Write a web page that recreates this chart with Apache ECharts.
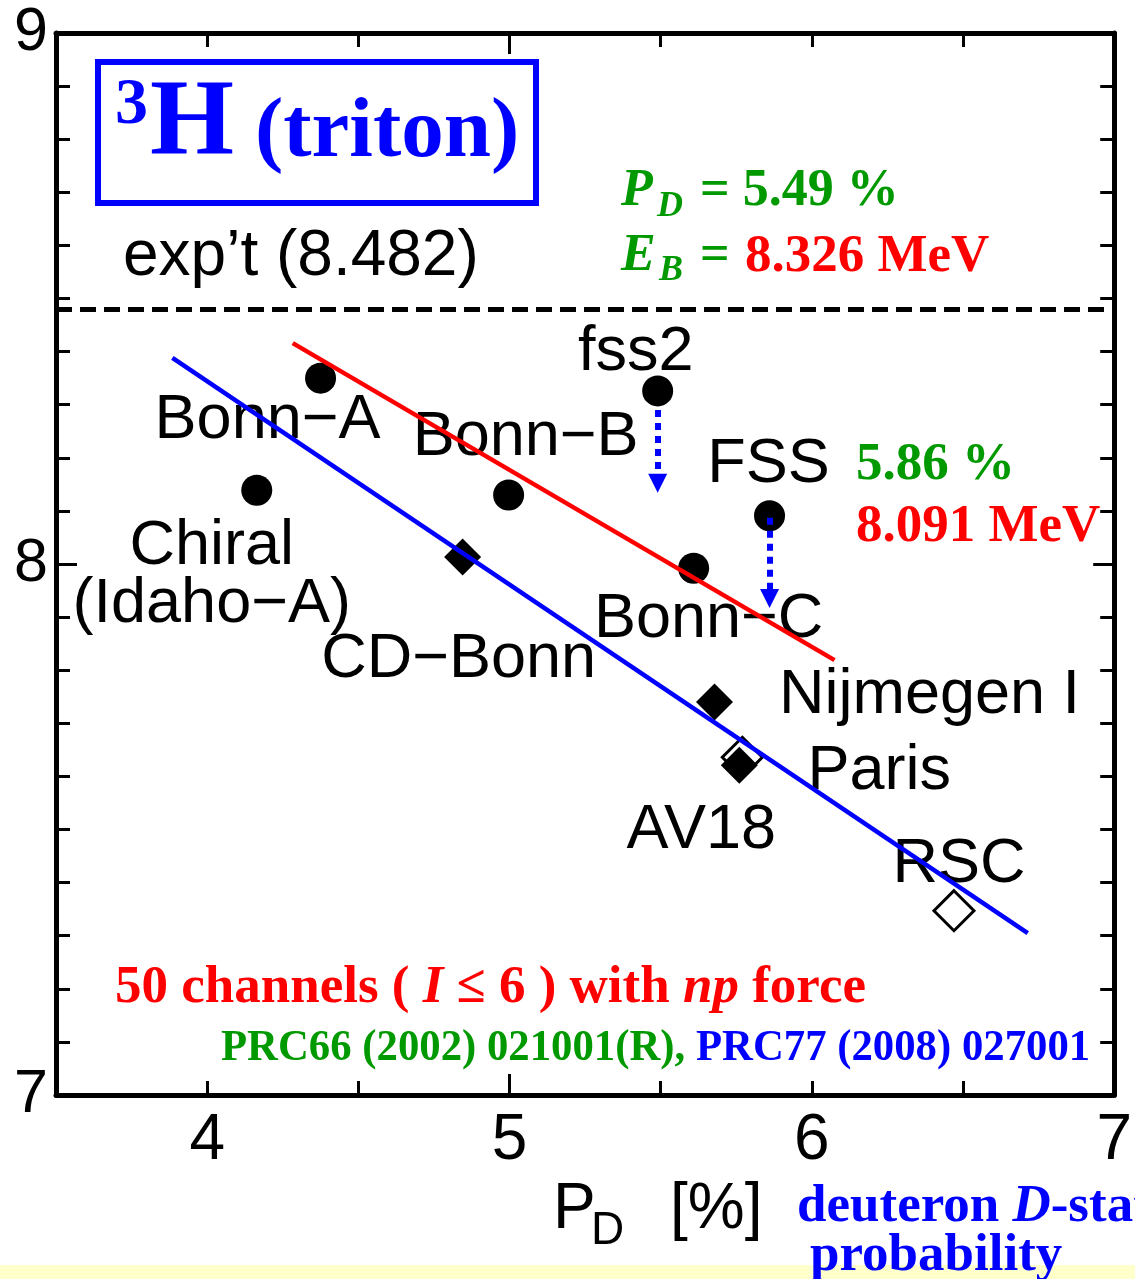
<!DOCTYPE html>
<html><head><meta charset="utf-8">
<script src="https://cdn.jsdelivr.net/npm/echarts@6/dist/echarts.min.js"></script>
<style>html,body{margin:0;padding:0;background:#fff}#c{width:1135px;height:1279px}</style>
</head><body><div id="c"></div><script>
// ---- data ----
const circleNames = ['Bonn−A', 'Chiral\n(Idaho−A)', 'Bonn−B', 'fss2', 'FSS', 'Bonn−C'];
const circlePD    = [4.375, 4.164, 4.997, 5.49, 5.86, 5.609];
const circleEB    = [8.350, 8.139, 8.130, 8.326, 8.091, 7.992];

const filledDiamondNames = ['CD−Bonn', 'Nijmegen I', 'AV18'];
const filledDiamondPD    = [4.845, 5.678, 5.760];
const filledDiamondEB    = [8.013, 7.740, 7.621];

const openDiamondNames = ['Paris', 'RSC'];
const openDiamondPD    = [5.770, 6.470];
const openDiamondEB    = [7.636, 7.347];

const blueLinePD = [3.885, 6.714];
const blueLineEB = [8.388, 7.305];
const redLinePD  = [4.283, 6.075];
const redLineEB  = [8.416, 7.819];

const expEB = 8.482;

const arrowPD    = [5.49, 5.86];
const arrowFrom  = [8.290, 8.087];
const arrowTo    = [8.152, 7.935];

const xTicks = [3.5, 7];       // axis range
const yTicks = [7, 9];
const xLabelValues = [4, 5, 6, 7];

// ---- layout (label offsets in px) ----
const labelOffsets = {
  'Bonn−A': [-53, 42], 'Chiral\n(Idaho−A)': [-45, 85], 'Bonn−B': [17, -57],
  'fss2': [-22, -38], 'FSS': [-1, -51], 'Bonn−C': [15, 51],
  'CD−Bonn': [-4, 103], 'Nijmegen I': [215, -6], 'AV18': [-38, 65],
  'Paris': [137, 14], 'RSC': [5, -46]
};

const SANS = '"Liberation Sans", Arial, Helvetica, sans-serif';
const SERIF = '"Liberation Serif", "Times New Roman", serif';
const GREEN = '#009900', RED = '#ff0000', BLUE = '#0000ff';

function pts(names, xs, ys) {
  return names.map((n, i) => ({
    name: n, value: [xs[i], ys[i]],
    label: { offset: labelOffsets[n] || [0, 0] }
  }));
}
const labelStyle = {
  show: true, position: 'inside', formatter: p => p.name,
  fontFamily: SANS, fontSize: 63, color: '#000', align: 'center',
  verticalAlign: 'middle', lineHeight: 58
};

const axisLineStyle = { show: true, onZero: false, lineStyle: { color: '#000', width: 5 } };
function xAx(pos, showLabel) {
  return {
    type: 'value', position: pos, min: xTicks[0], max: xTicks[1], interval: 0.5,
    axisLine: axisLineStyle,
    axisTick: { show: true, inside: true, length: 14, lineStyle: { color: '#000', width: 3 } },
    axisLabel: {
      show: showLabel, margin: 14, fontFamily: SANS, fontSize: 64, color: '#000',
      formatter: v => xLabelValues.indexOf(v) >= 0 ? String(v) : ''
    },
    splitLine: { show: false }
  };
}
function xLong(pos) {
  return {
    type: 'value', position: pos, min: xTicks[0], max: xTicks[1],
    axisLine: { show: false },
    axisTick: { show: true, inside: true, length: 21, customValues: [5], lineStyle: { color: '#000', width: 3 } },
    axisLabel: { show: false }, splitLine: { show: false }
  };
}
function yAx(pos, showLabel) {
  return {
    type: 'value', position: pos, min: yTicks[0], max: yTicks[1], interval: 1,
    axisLine: axisLineStyle,
    axisTick: { show: true, inside: true, length: 21, lineStyle: { color: '#000', width: 3 } },
    minorTick: { show: true, splitNumber: 10, length: 14, lineStyle: { color: '#000', width: 3 } },
    axisLabel: { show: showLabel, margin: 8, fontFamily: SANS, fontSize: 61, color: '#000' },
    splitLine: { show: false }, minorSplitLine: { show: false }
  };
}

function txt(x, y, text, font, color, extra) {
  return Object.assign({
    type: 'text', x: x, y: y, z: 10,
    style: Object.assign({ text: text, fill: color, align: 'left', verticalAlign: 'middle' }, font)
  }, extra || {});
}
const serifB = (s, it) => ({ fontFamily: SERIF, fontWeight: 'bold', fontSize: s, fontStyle: it ? 'italic' : 'normal' });
const sans = s => ({ fontFamily: SANS, fontSize: s });

const chart = echarts.init(document.getElementById('c'), null, { renderer: 'canvas' });
chart.setOption({
  animation: false,
  backgroundColor: '#fff',
  grid: { left: 56, right: 15, top: 33, bottom: 184 },
  xAxis: [xAx('bottom', true), xAx('top', false), xLong('bottom'), xLong('top')],
  yAxis: [yAx('left', true), yAx('right', false)],
  series: [
    {
      type: 'scatter', name: 'open', symbol: 'diamond', symbolSize: 40, z: 2,
      itemStyle: { color: '#fff', borderColor: '#000', borderWidth: 3, opacity: 1 },
      label: labelStyle,
      data: pts(openDiamondNames, openDiamondPD, openDiamondEB)
    },
    {
      type: 'scatter', name: 'filled', symbol: 'diamond', symbolSize: 37, z: 2,
      itemStyle: { color: '#000', opacity: 1 },
      label: labelStyle,
      data: pts(filledDiamondNames, filledDiamondPD, filledDiamondEB)
    },
    {
      type: 'scatter', name: 'circles', symbol: 'circle', symbolSize: 31, z: 2,
      itemStyle: { color: '#000', opacity: 1 },
      label: labelStyle,
      data: pts(circleNames, circlePD, circleEB)
    },
    {
      type: 'line', name: 'blue', z: 5, symbol: 'none',
      lineStyle: { color: BLUE, width: 4.5 },
      data: blueLinePD.map((x, i) => [x, blueLineEB[i]]),
      markLine: {
        silent: true, symbol: 'none', label: { show: false },
        lineStyle: { color: '#000', width: 5, type: [16, 8] },
        data: [{ yAxis: expEB }]
      }
    },
    {
      type: 'line', name: 'red', z: 5, symbol: 'none',
      lineStyle: { color: RED, width: 4.5 },
      data: redLinePD.map((x, i) => [x, redLineEB[i]])
    },
    {
      type: 'lines', coordinateSystem: 'cartesian2d', z: 6,
      symbol: ['none', 'triangle'], symbolSize: 19,
      lineStyle: { color: BLUE, width: 6, type: [7, 6], opacity: 1 },
      data: arrowPD.map((x, i) => ({ coords: [[x, arrowFrom[i]], [x, arrowTo[i]]] }))
    }
  ],
  graphic: [
    { type: 'rect', z: 1, shape: { x: 0, y: 1265, width: 1135, height: 14 }, style: { fill: '#ffffcc' } },
    { type: 'rect', z: 10, shape: { x: 98, y: 62, width: 438, height: 141 }, style: { fill: 'none', stroke: BLUE, lineWidth: 6 } },
    txt(115, 106, '3', serifB(66), BLUE),
    txt(150, 126, 'H', serifB(108), BLUE),
    txt(255, 134, '(triton)', serifB(85), BLUE),
    txt(123, 257, 'exp’t (8.482)', sans(64), '#000'),
    txt(621, 192, 'P', serifB(52, true), GREEN),
    txt(657, 207, 'D', serifB(36, true), GREEN),
    txt(700, 192, '= 5.49 %', serifB(52), GREEN),
    txt(621, 257, 'E', serifB(52, true), GREEN),
    txt(659, 271, 'B', serifB(36, true), GREEN),
    txt(700, 257, '=', serifB(52), GREEN),
    txt(745, 257, '8.326 MeV', serifB(53), RED),
    txt(856, 465, '5.86 %', serifB(53), GREEN),
    txt(856, 527, '8.091 MeV', serifB(53), RED),
    {
      type: 'text', x: 115, y: 988, z: 10,
      style: {
        text: '50 channels ( {i|I} ≤ 6 ) with {i|np} force', fill: RED, align: 'left', verticalAlign: 'middle',
        fontFamily: SERIF, fontWeight: 'bold', fontSize: 53,
        rich: { i: { fontFamily: SERIF, fontWeight: 'bold', fontStyle: 'italic', fontSize: 53, fill: RED } }
      }
    },
    {
      type: 'text', x: 221, y: 1048, z: 10, scaleX: 0.95,
      style: {
        text: '{g|PRC66 (2002) 021001(R), }{b|PRC77 (2008) 027001}', align: 'left', verticalAlign: 'middle',
        rich: {
          g: { fontFamily: SERIF, fontWeight: 'bold', fontSize: 45, fill: GREEN },
          b: { fontFamily: SERIF, fontWeight: 'bold', fontSize: 45, fill: BLUE }
        }
      }
    },
    txt(553, 1210, 'P', sans(64), '#000'),
    txt(591, 1231, 'D', sans(46), '#000'),
    txt(670, 1210, '[%]', sans(64), '#000'),
    {
      type: 'text', x: 797, y: 1207, z: 10,
      style: {
        text: 'deuteron {i|D}-state', fill: BLUE, align: 'left', verticalAlign: 'middle',
        fontFamily: SERIF, fontWeight: 'bold', fontSize: 53,
        rich: { i: { fontFamily: SERIF, fontWeight: 'bold', fontStyle: 'italic', fontSize: 53, fill: BLUE } }
      }
    },
    txt(810, 1256, 'probability', serifB(53), BLUE)
  ]
});
</script></body></html>
